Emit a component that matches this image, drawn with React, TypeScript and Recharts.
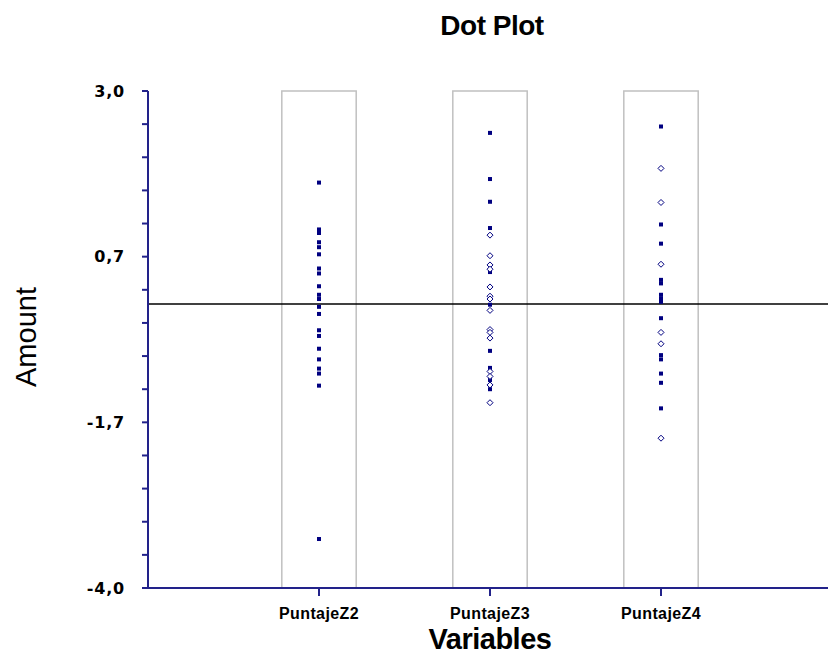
import React from "react";
import { ScatterChart, Scatter, XAxis, YAxis, ReferenceLine, ReferenceArea } from "recharts";

const categories = ["PuntajeZ2", "PuntajeZ3", "PuntajeZ4"];

const z2Filled = [1.71, 1.05, 1.0, 0.87, 0.8, 0.7, 0.5, 0.43, 0.25, 0.13, 0.07, -0.04, -0.14, -0.37, -0.45, -0.63, -0.78, -0.91, -0.98, -1.15, -3.31];
const z2Hollow: number[] = [];
const z3Filled = [2.41, 1.76, 1.44, 1.07, 0.45, -0.01, -0.66, -0.9, -1.07, -1.2];
const z3Hollow = [0.97, 0.68, 0.55, 0.49, 0.24, 0.11, 0.07, -0.09, -0.36, -0.4, -0.48, -0.95, -1.02, -1.14, -1.39];
const z4Filled = [2.5, 1.12, 0.85, 0.34, 0.29, 0.13, 0.08, 0.03, -0.2, -0.72, -0.78, -0.98, -1.11, -1.47];
const z4Hollow = [1.91, 1.43, 0.56, -0.4, -0.56, -1.89];

const yMin = -4.0;
const yMax = 3.0;
const majorCount = 3; // intervals between major ticks
const minorPerMajor = 5;
const meanLine = 0.0;

const filledSets = [z2Filled, z3Filled, z4Filled];
const hollowSets = [z2Hollow, z3Hollow, z4Hollow];

const filledData = filledSets.flatMap((arr, i) => arr.map((v) => ({ x: i + 1, y: v })));
const hollowData = hollowSets.flatMap((arr, i) => arr.map((v) => ({ x: i + 1, y: v })));

const nTicks = majorCount * minorPerMajor;
const yTicks = Array.from({ length: nTicks + 1 }, (_, i) => yMin + ((yMax - yMin) * i) / nTicks);

const NAVY = "#000080";
const AXIS = "#22228a";

const FilledShape = (p: any) => (
  <rect x={p.cx - 2} y={p.cy - 2} width={4} height={4} fill={NAVY} />
);
const HollowShape = (p: any) => (
  <path
    d={`M${p.cx},${p.cy - 3}L${p.cx + 3},${p.cy}L${p.cx},${p.cy + 3}L${p.cx - 3},${p.cy}Z`}
    fill="#fff"
    stroke={NAVY}
    strokeWidth={1}
  />
);

const YTick = (p: any) => {
  const idx = yTicks.findIndex((t) => Math.abs(t - p.payload.value) < 1e-6);
  if (idx % minorPerMajor !== 0) return <g />;
  const label = p.payload.value.toFixed(1).replace(".", ",");
  return (
    <text
      x={p.x}
      y={p.y}
      dy="0.35em"
      textAnchor="end"
      fontFamily="DejaVu Sans"
      fontWeight="bold"
      fontSize={16}
      letterSpacing={0.8}
      fill="#000"
    >
      {label}
    </text>
  );
};

const XTick = (p: any) => {
  const label = categories[Math.round(p.payload.value) - 1] ?? "";
  return (
    <text
      x={p.x}
      y={p.y}
      dy="0.71em"
      textAnchor="middle"
      fontFamily="Liberation Sans, Arial"
      fontWeight="bold"
      fontSize={16}
      letterSpacing={0.4}
      fill="#000"
    >
      {label}
    </text>
  );
};

export default function App() {
  return (
    <div
      style={{
        position: "absolute",
        left: 0,
        top: 0,
        width: 828,
        height: 656,
        overflow: "hidden",
        background: "#fff",
        fontFamily: "Liberation Sans, Arial, sans-serif",
      }}
    >
      <div
        style={{
          position: "absolute",
          left: 392,
          width: 200,
          top: 10,
          textAlign: "center",
          fontSize: 28,
          fontWeight: "bold",
          letterSpacing: -0.5,
          lineHeight: "32px",
          color: "#000",
        }}
      >
        Dot Plot
      </div>
      <div
        style={{
          position: "absolute",
          left: 26,
          top: 337,
          width: 0,
          height: 0,
        }}
      >
        <div
          style={{
            position: "absolute",
            left: -100,
            top: -17,
            width: 200,
            textAlign: "center",
            fontSize: 29,
            lineHeight: "34px",
            color: "#000",
            transform: "rotate(-90deg)",
          }}
        >
          Amount
        </div>
      </div>
      <div
        style={{
          position: "absolute",
          left: 390,
          width: 200,
          top: 622,
          textAlign: "center",
          fontSize: 29,
          fontWeight: "bold",
          letterSpacing: -0.5,
          lineHeight: "34px",
          color: "#000",
        }}
      >
        Variables
      </div>
      <div style={{ position: "absolute", left: 0, top: 0 }}>
        <ScatterChart width={832} height={656} margin={{ top: 91, right: 0, left: 0, bottom: 0 }}>
          <XAxis
            type="number"
            dataKey="x"
            domain={[0, 4]}
            ticks={[1, 2, 3]}
            interval={0}
            height={68}
            tickSize={8}
            tickMargin={12}
            tick={<XTick />}
            axisLine={{ stroke: AXIS, strokeWidth: 2 }}
            tickLine={{ stroke: AXIS, strokeWidth: 2 }}
            allowDataOverflow
          />
          <YAxis
            type="number"
            dataKey="y"
            domain={[yMin, yMax]}
            ticks={yTicks}
            interval={0}
            width={148}
            tickSize={6}
            tickMargin={17}
            tick={<YTick />}
            axisLine={{ stroke: AXIS, strokeWidth: 2 }}
            tickLine={{ stroke: AXIS, strokeWidth: 2 }}
            allowDataOverflow
          />
          {categories.map((c, i) => (
            <ReferenceArea
              key={c}
              x1={i + 1 - 0.2175}
              x2={i + 1 + 0.2175}
              y1={yMin}
              y2={yMax}
              fill="#fff"
              fillOpacity={0}
              stroke="#c0c0c0"
              strokeWidth={1.5}
            />
          ))}
          <ReferenceLine y={meanLine} stroke="#000" strokeWidth={1.5} />
          <Scatter data={filledData} shape={<FilledShape />} isAnimationActive={false} />
          <Scatter data={hollowData} shape={<HollowShape />} isAnimationActive={false} />
        </ScatterChart>
      </div>
    </div>
  );
}
